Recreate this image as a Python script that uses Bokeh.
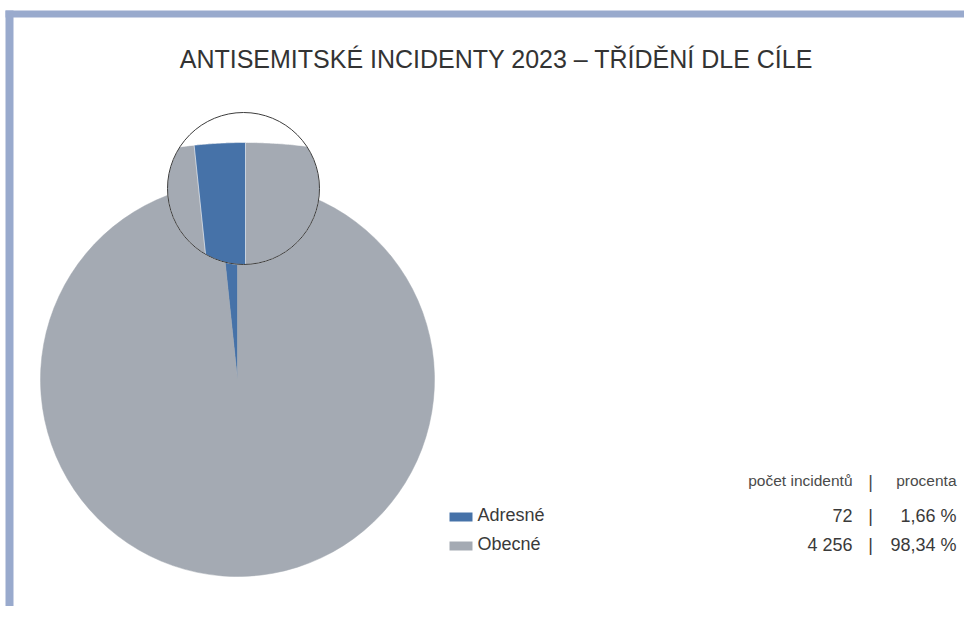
import numpy as np
from bokeh.plotting import figure
from bokeh.models import Range1d, ColumnDataSource
from bokeh.core.properties import value
from bokeh.embed import file_html
from bokeh.resources import INLINE

# ---- data ----
title_text = "ANTISEMITSKÉ INCIDENTY 2023 – TŘÍDĚNÍ DLE CÍLE"
categories = ["Adresné", "Obecné"]
counts = [72, 4256]
colors = ["#4672a8", "#a4aab3"]
header_labels = ["počet incidentů", "procenta"]

# ---- layout (screen px, y downward) ----
W, H = 964, 606
def Y(s):
    return 622 - np.asarray(s, dtype=float)

TXT_OFF = 7  # compensation for renderer baseline
def YT(s):
    return Y(np.asarray(s, dtype=float) - TXT_OFF)

PIE_C = (237, 379)
PIE_R = 197
ZOOM_C = (243, 188)
ZOOM_R = 76
MAG = 2.5
MAG_TOP = (245, 142)
FONT = value("Liberation Sans")

p = figure(width=W, height=H, x_range=Range1d(0, W), y_range=Range1d(622 - H, 622),
           output_backend="svg", toolbar_location=None, min_border=0)
p.axis.visible = False
p.grid.visible = False
p.outline_line_color = None
p.background_fill_color = "white"
p.border_fill_color = "white"

# frame bars
p.quad(left=[5, 5], right=[W, 13], top=[Y(10), Y(10)], bottom=[Y(17), 0],
       color="#99aacd", line_color=None)

# pie angles
tot = float(sum(counts))
frac = np.array(counts) / tot
starts = np.pi / 2 + 2 * np.pi * np.concatenate([[0], np.cumsum(frac)[:-1]])
ends = starts + 2 * np.pi * frac

src = ColumnDataSource(dict(start=starts, end=ends, color=colors))
p.wedge(x=PIE_C[0], y=float(Y(PIE_C[1])), radius=PIE_R, start_angle="start", end_angle="end",
        fill_color="color", line_color="color", line_width=0.5, source=src)

# ---- zoom circle ----
def circle_pts(cx, cy, r, n=360, a0=0.0, a1=2 * np.pi):
    a = np.linspace(a0, a1, n, endpoint=False)
    return [(cx + r * np.cos(t), cy + r * np.sin(t)) for t in a]

def clip_poly(subject, clipper):
    def cross(a, b, c):
        return (b[0] - a[0]) * (c[1] - a[1]) - (b[1] - a[1]) * (c[0] - a[0])
    def inter(s, e, a, b):
        x1, y1 = s; x2, y2 = e; x3, y3 = a; x4, y4 = b
        den = (x1 - x2) * (y3 - y4) - (y1 - y2) * (x3 - x4)
        t = ((x1 - x3) * (y3 - y4) - (y1 - y3) * (x3 - x4)) / den
        return (x1 + t * (x2 - x1), y1 + t * (y2 - y1))
    out = list(subject)
    n = len(clipper)
    for i in range(n):
        a = clipper[i]; b = clipper[(i + 1) % n]
        inp = out; out = []
        if not inp:
            break
        s = inp[-1]
        for e in inp:
            e_in = cross(a, b, e) >= 0
            s_in = cross(a, b, s) >= 0
            if e_in:
                if not s_in:
                    out.append(inter(s, e, a, b))
                out.append(e)
            elif s_in:
                out.append(inter(s, e, a, b))
            s = e
    return out

zc = (ZOOM_C[0], float(Y(ZOOM_C[1])))
zoom_poly = circle_pts(zc[0], zc[1], ZOOM_R, 240)
R2 = PIE_R * MAG
mc = (MAG_TOP[0], float(Y(MAG_TOP[1])) - R2)

xs, ys, cs = [], [], []
p.patch([q[0] for q in zoom_poly], [q[1] for q in zoom_poly], fill_color="white", line_color=None)
big = int(np.argmax(counts))
disk = clip_poly(circle_pts(mc[0], mc[1], R2, 1440), zoom_poly)
xs.append([q[0] for q in disk]); ys.append([q[1] for q in disk]); cs.append(colors[big])
for i in range(len(counts)):
    if i == big:
        continue
    arc = [(mc[0] + R2 * np.cos(t), mc[1] + R2 * np.sin(t))
           for t in np.linspace(starts[i], ends[i], 60)]
    wedge_poly = [mc] + arc
    clipped = clip_poly(wedge_poly, zoom_poly)
    if clipped:
        xs.append([q[0] for q in clipped]); ys.append([q[1] for q in clipped]); cs.append(colors[i])
p.patches(xs, ys, fill_color=cs, line_color="white", line_width=0.6)
p.circle(x=[zc[0]], y=[zc[1]], radius=ZOOM_R, fill_color=None, line_color="#3d3d3d", line_width=1)

# ---- title ----
p.text(x=[496], y=YT([65]), text=[title_text], text_font=FONT, text_font_size="25px",
       text_align="center", text_baseline="alphabetic", text_color="#333333")

# ---- legend + table ----
base = np.array([521, 550])
p.quad(left=[449] * 2, right=[472] * 2, top=Y(base - 9), bottom=Y(base), fill_color=colors, line_color=None)
p.text(x=[477] * 2, y=YT(base), text=categories, text_font=FONT, text_font_size="18px",
       text_baseline="alphabetic", text_color="#3a3a3a")

def fmt_int(v):
    return f"{v:,}".replace(",", " ")
count_txt = [fmt_int(c) for c in counts]
pct_txt = [f"{100 * c / tot:.2f}".replace(".", ",") + " %" for c in counts]

vb = base + 1
p.text(x=[852] * 2, y=YT(vb), text=count_txt, text_font=FONT, text_font_size="18px",
       text_align="right", text_baseline="alphabetic", text_color="#3a3a3a")
p.text(x=[870] * 2, y=YT(vb), text=["|"] * 2, text_font=FONT, text_font_size="18px",
       text_align="center", text_baseline="alphabetic", text_color="#3a3a3a")
p.text(x=[956] * 2, y=YT(vb), text=pct_txt, text_font=FONT, text_font_size="18px",
       text_align="right", text_baseline="alphabetic", text_color="#3a3a3a")

p.text(x=[852, 956], y=YT([487, 487]), text=header_labels, text_font=FONT, text_font_size="15.5px",
       text_align="right", text_baseline="alphabetic", text_color="#4a4a4a")
p.text(x=[870], y=YT([488]), text=["|"], text_font=FONT, text_font_size="18px",
       text_align="center", text_baseline="alphabetic", text_color="#4a4a4a")

open("out.html", "w").write(file_html(p, INLINE))
